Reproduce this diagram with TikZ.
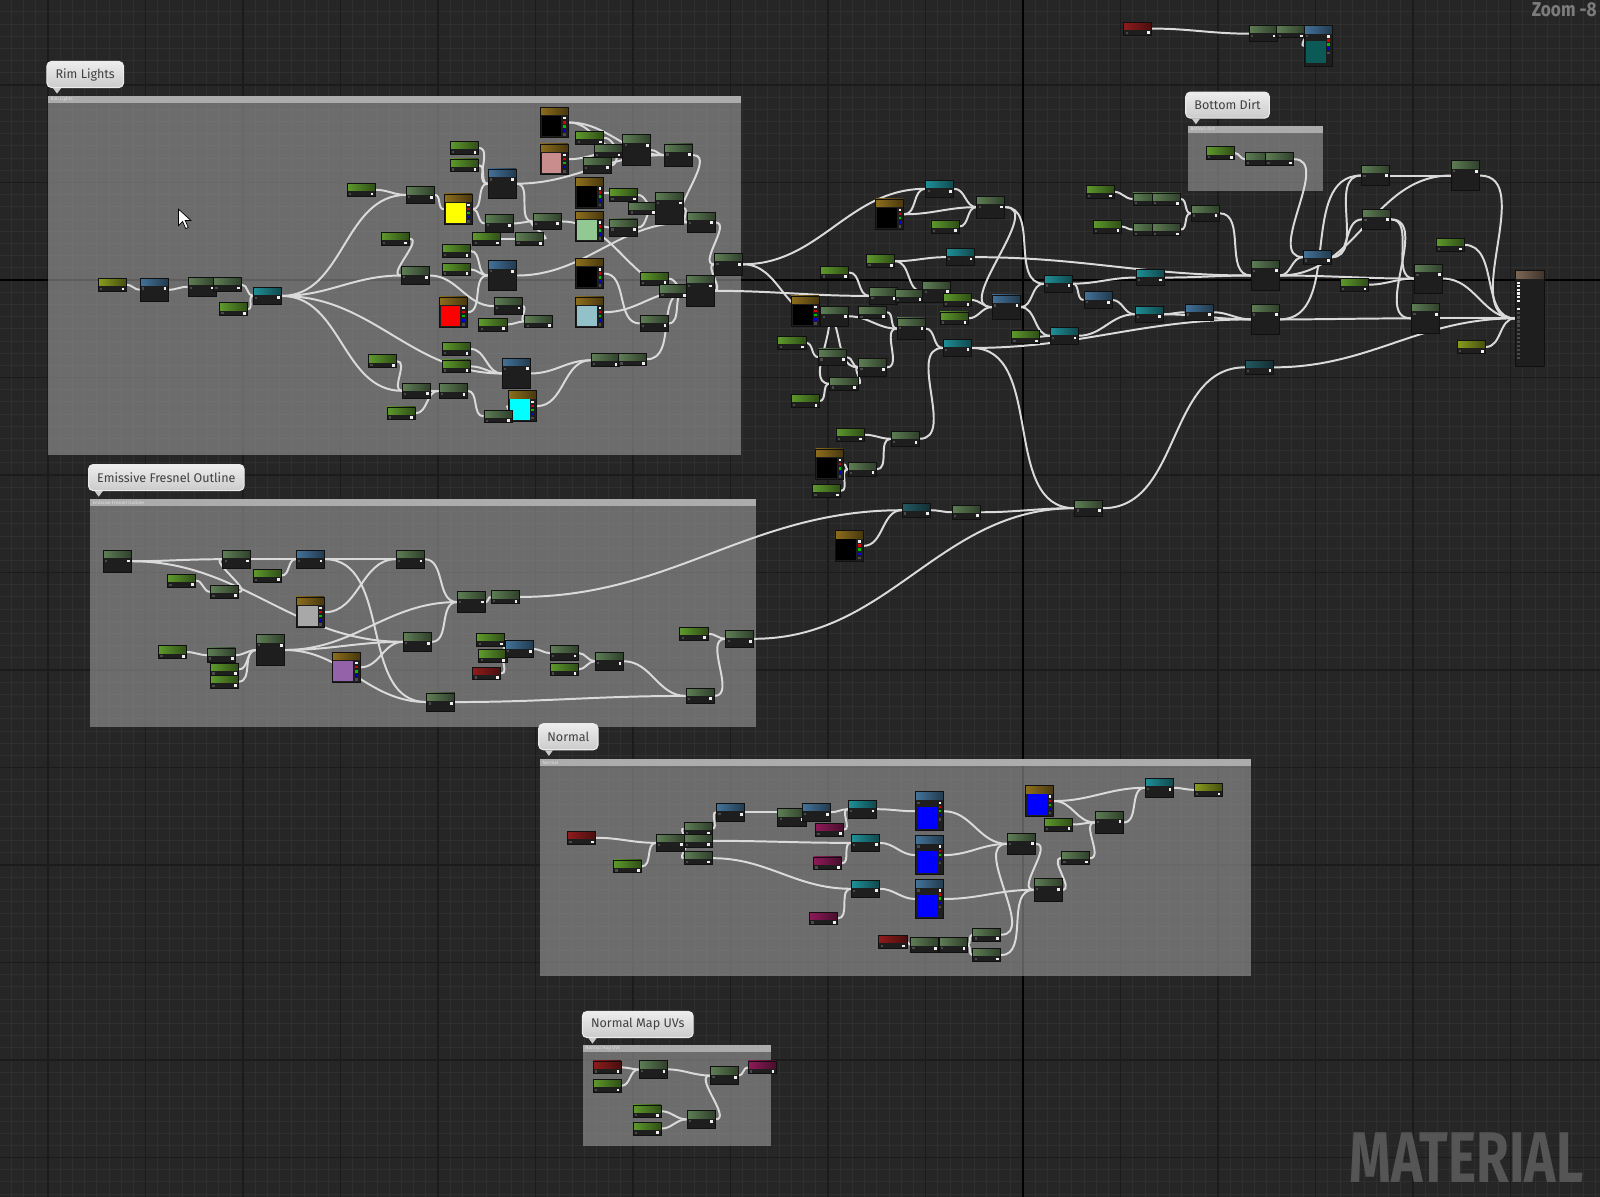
\documentclass[tikz,border=0pt]{standalone}
\usepackage{fontspec}
\setmainfont{Fira Sans}
\usetikzlibrary{positioning}
\definecolor{canvas}{HTML}{262626}
\definecolor{gridminor}{HTML}{2F2F2F}
\definecolor{gridmajor}{HTML}{1B1B1B}
\definecolor{boxc}{HTML}{9C9C9C}
\definecolor{boxhead}{HTML}{ACACAC}
\definecolor{bubtop}{HTML}{EDEDED}
\definecolor{bubbot}{HTML}{CBCBCB}
\definecolor{nbody}{HTML}{1D1E1D}
\definecolor{nedge}{HTML}{101010}
\definecolor{pinc}{HTML}{EEEEEE}
\definecolor{pinin}{HTML}{4A4A4A}
\definecolor{wirec}{HTML}{DADADA}
\definecolor{hgreen}{HTML}{5E7E55}
\definecolor{hbright}{HTML}{5E9A2C}
\definecolor{holive}{HTML}{8A9C1E}
\definecolor{hblue}{HTML}{43739A}
\definecolor{hteal}{HTML}{1F9098}
\definecolor{hdteal}{HTML}{245A62}
\definecolor{hred}{HTML}{901C1C}
\definecolor{hmag}{HTML}{8E1A58}
\definecolor{hgold}{HTML}{8E6E1C}
\definecolor{htan}{HTML}{7E6856}
\definecolor{swpink}{HTML}{C98D8D}
\definecolor{swlgreen}{HTML}{92C892}
\definecolor{swlblue}{HTML}{93C1CA}
\definecolor{swgray}{HTML}{A8A8A8}
\definecolor{swpurple}{HTML}{9462A8}
\definecolor{swcyan}{HTML}{00FFFF}
\definecolor{swyellow}{HTML}{FFFF00}
\definecolor{swred}{HTML}{FF0000}
\definecolor{swblue}{HTML}{0000FF}
\definecolor{texteal}{HTML}{0C5A55}
\definecolor{marktext}{HTML}{555555}
\definecolor{zoomtext}{HTML}{7C7C7C}
\pgfdeclarelayer{grid}
\pgfdeclarelayer{wires}
\pgfsetlayers{grid,wires,main}
\tikzset{
  uenode/.style={rectangle,fill=nbody,draw=nedge,line width=0.2pt,inner sep=0pt,minimum width=2.75mm,minimum height=#1},
  hdr/.style={path picture={
      \shade[left color=#1,right color=#1!50!black] (path picture bounding box.north west) rectangle ([yshift=-0.72mm]path picture bounding box.north east);
      \fill[pinin] ([shift={(0.18mm,-0.92mm)}]path picture bounding box.north west) rectangle ++(0.22mm,-0.22mm);
      \fill[pinc] ([shift={(-0.45mm,-0.9mm)}]path picture bounding box.north east) rectangle ++(0.27mm,-0.27mm);}},
  cst/.style={uenode=1.25mm,hdr=hbright},
  rd/.style={uenode=1.25mm,hdr=hred},
  mg/.style={uenode=1.25mm,hdr=hmag},
  ol/.style={uenode=1.25mm,hdr=holive},
  gn/.style={uenode=#1,hdr=hgreen},
  gn/.default=1.7mm,
  bl/.style={uenode=#1,hdr=hblue},
  bl/.default=1.7mm,
  tl/.style={uenode=#1,hdr=hteal},
  tl/.default=1.7mm,
  dtl/.style={uenode=#1,hdr=hdteal},
  dtl/.default=1.4mm,
  sw/.style={uenode=3mm,path picture={
      \shade[left color=hgold,right color=hgold!50!black] (path picture bounding box.north west) rectangle ([yshift=-0.75mm]path picture bounding box.north east);
      \fill[#1] ([shift={(0.15mm,-0.85mm)}]path picture bounding box.north west) rectangle ++(1.95mm,-2.0mm);
      \fill[pinc] ([shift={(-0.5mm,-0.95mm)}]path picture bounding box.north east) rectangle ++(0.26mm,-0.26mm);
      \fill[red!85!black] ([shift={(-0.5mm,-1.35mm)}]path picture bounding box.north east) rectangle ++(0.26mm,-0.26mm);
      \fill[green!75!black] ([shift={(-0.5mm,-1.75mm)}]path picture bounding box.north east) rectangle ++(0.26mm,-0.26mm);
      \fill[blue!85!black] ([shift={(-0.5mm,-2.15mm)}]path picture bounding box.north east) rectangle ++(0.26mm,-0.26mm);
      \fill[pinin] ([shift={(-0.5mm,-2.55mm)}]path picture bounding box.north east) rectangle ++(0.26mm,-0.26mm);}},
  tx/.style={uenode=3.8mm,path picture={
      \shade[left color=hblue,right color=hblue!50!black] (path picture bounding box.north west) rectangle ([yshift=-0.75mm]path picture bounding box.north east);
      \fill[#1] ([shift={(0.15mm,-1.5mm)}]path picture bounding box.north west) rectangle ++(1.95mm,-2.15mm);
      \fill[pinin] ([shift={(0.18mm,-0.95mm)}]path picture bounding box.north west) rectangle ++(0.22mm,-0.22mm);
      \fill[pinc] ([shift={(-0.5mm,-0.95mm)}]path picture bounding box.north east) rectangle ++(0.26mm,-0.26mm);
      \fill[red!85!black] ([shift={(-0.5mm,-1.35mm)}]path picture bounding box.north east) rectangle ++(0.26mm,-0.26mm);
      \fill[green!75!black] ([shift={(-0.5mm,-1.75mm)}]path picture bounding box.north east) rectangle ++(0.26mm,-0.26mm);
      \fill[blue!85!black] ([shift={(-0.5mm,-2.15mm)}]path picture bounding box.north east) rectangle ++(0.26mm,-0.26mm);
      \fill[pinin] ([shift={(-0.5mm,-2.55mm)}]path picture bounding box.north east) rectangle ++(0.26mm,-0.26mm);}},
  outnode/.style={uenode=9.4mm,minimum width=2.8mm,path picture={
      \shade[left color=htan,right color=htan!50!black] (path picture bounding box.north west) rectangle ([yshift=-0.8mm]path picture bounding box.north east);
      \foreach \k in {1.1,1.45,1.8,2.15,2.5,2.9,3.7} \fill[pinc] ([shift={(0.2mm,-\k*1mm)}]path picture bounding box.north west) rectangle ++(0.25mm,-0.22mm);
      \foreach \k in {4.1,4.5,4.9,5.3,5.7,6.1,6.5,6.9,7.3,7.7,8.1,8.5} \fill[pinin] ([shift={(0.2mm,-\k*1mm)}]path picture bounding box.north west) rectangle ++(0.25mm,-0.22mm);}},
  wire/.style={draw=wirec,line width=0.55pt,out=0,in=180},
  bubble/.style={draw=white!92!black,line width=0.3pt,top color=bubtop,bottom color=bubbot,rounded corners=0.45mm,
    inner xsep=0.85mm,inner ysep=0pt,minimum height=2.55mm,text=black!75,font=\fontsize{3.5}{4}\selectfont},
  boxtitle/.style={anchor=west,inner sep=0pt,text=white!88!black,font=\fontsize{1.3}{1.5}\selectfont}
}

\begin{document}
\begin{tikzpicture}[x=0.1mm,y=-0.1mm]
  \useasboundingbox (0,0) rectangle (1568,1173);

  % canvas grid and comment boxes
  \begin{pgfonlayer}{grid}
    \fill[canvas] (0,0) rectangle (1568,1173);
    \foreach \i in {0,...,132} \draw[gridminor,line width=0.25pt] ({-0.68+\i*11.944},0) -- ++(0,1173);
    \foreach \j in {0,...,98} \draw[gridminor,line width=0.25pt] (0,{-0.31+\j*11.944}) -- ++(1568,0);
    \foreach \i in {0,...,16} \draw[gridmajor,line width=0.35pt] ({47.1+\i*95.55},0) -- ++(0,1173);
    \foreach \j in {0,...,11} \draw[gridmajor,line width=0.35pt] (0,{83.3+\j*95.55}) -- ++(1568,0);
    \draw[black,line width=0.4pt] (1002.6,0) -- ++(0,1173);
    \draw[black,line width=0.4pt] (0,274.4) -- ++(1568,0);

    \fill[boxc,fill opacity=0.6] (47,94) rectangle (726,446);
    \fill[boxhead] (47,94) rectangle (726,101);
    \fill[boxc,fill opacity=0.6] (88,489) rectangle (741,712);
    \fill[boxhead] (88,489) rectangle (741,496);
    \fill[boxc,fill opacity=0.6] (529,744) rectangle (1226,956);
    \fill[boxhead] (529,744) rectangle (1226,751);
    \fill[boxc,fill opacity=0.6] (1164,123) rectangle (1297,187);
    \fill[boxhead] (1164,123) rectangle (1297,130);
    \fill[boxc,fill opacity=0.6] (571,1024) rectangle (756,1123);
    \fill[boxhead] (571,1024) rectangle (756,1031);
  \end{pgfonlayer}

  \node[boxtitle] (rimhd) at (49,97.5) {Rim Lights};
  \node[boxtitle] (efohd) at (90,492.5) {Emissive Fresnel Outline};
  \node[boxtitle] (nrmhd) at (531,747.5) {Normal};
  \node[boxtitle] (dirthd) at (1166,126.5) {Bottom Dirt};
  \node[boxtitle] (uvhd) at (573,1027.5) {Normal Map UVs};

  % comment bubbles
  \node[bubble] (rimtag) at (83.5,73) {Rim Lights};
  \node[bubble] (efotag) at (163,468) {Emissive Fresnel Outline};
  \node[bubble] (nrmtag) at (557,722) {Normal};
  \node[bubble] (dirttag) at (1203,103) {Bottom Dirt};
  \node[bubble] (uvtag) at (625,1004) {Normal Map UVs};
  \foreach \t in {rimtag,efotag,nrmtag,dirttag,uvtag}
    \fill[bubbot] ([xshift=0.65mm]\t.south west) -- ([xshift=1.45mm]\t.south west) -- ([xshift=1.05mm,yshift=-0.55mm]\t.south west) -- cycle;

  \node[font=\fontsize{5.6}{6}\selectfont\bfseries,text=zoomtext,inner sep=0pt] (zoomlbl) at (1533,10) {\scalebox{0.86}[1]{Zoom -8}};
  \node[font=\fontsize{14}{14}\selectfont\bfseries,text=marktext,inner sep=0pt,anchor=base] (wmark) at (1437,1159) {\scalebox{1.057}[1.43]{MATERIAL}};

  % top right
  \node[rd] (trR) at (1115,28) {};
  \node[gn=1.6mm] (trG1) at (1238,33) {};
  \node[gn=1.2mm] (trG2) at (1265,31) {};
  \node[tx=texteal,minimum height=4mm] (trTex) at (1292,45) {};

  % rim lights
  \node[ol] (r1) at (110,279) {};
  \node[bl=2.3mm] (r2) at (151,284) {};
  \node[gn=1.8mm] (r3) at (198,281) {};
  \node[gn=1.4mm] (r4) at (223,279) {};
  \node[cst] (r5) at (229,303) {};
  \node[tl] (r6) at (262,290) {};
  \node[cst] (r7) at (354,186) {};
  \node[gn=1.6mm] (r8) at (412,191) {};
  \node[cst] (r9) at (387,234) {};
  \node[gn] (r10) at (407,270) {};
  \node[cst] (r11) at (375,354) {};
  \node[gn=1.5mm] (r12) at (408,383) {};
  \node[cst] (r13) at (393,405) {};
  \node[gn=1.4mm] (r14) at (444,383) {};
  \node[sw=swyellow] (r15) at (449,205) {};
  \node[cst] (r16) at (455,145) {};
  \node[cst] (r17) at (455,162) {};
  \node[bl=2.9mm] (r18) at (492,180) {};
  \node[gn] (r19) at (489,219) {};
  \node[cst] (r20) at (477,234) {};
  \node[gn=1.2mm] (r21) at (519,234) {};
  \node[gn=1.6mm] (r22) at (536,217) {};
  \node[cst] (r23) at (447,246) {};
  \node[cst] (r24) at (447,264) {};
  \node[bl=2.9mm] (r25) at (492,270) {};
  \node[sw=swred] (r26) at (444,306) {};
  \node[gn] (r27) at (498,300) {};
  \node[cst] (r28) at (483,318) {};
  \node[gn=1.2mm] (r29) at (528,315) {};
  \node[cst] (r30) at (447,342) {};
  \node[cst] (r31) at (447,359) {};
  \node[bl=3mm] (r32) at (506,366) {};
  \node[sw=swcyan] (r33) at (512,398) {};
  \node[gn=1.2mm] (r34) at (488,408) {};
  \node[sw=black] (r35) at (543,120) {};
  \node[sw=swpink] (r36) at (543,156) {};
  \node[cst] (r37) at (578,135) {};
  \node[gn=1.3mm] (r38) at (596,148) {};
  \node[gn=1.6mm] (r39) at (585,162) {};
  \node[gn=3mm] (r40) at (624,147) {};
  \node[gn=2.2mm] (r41) at (665,152) {};
  \node[sw=black] (r42) at (578,189) {};
  \node[cst] (r43) at (611,191) {};
  \node[gn=1.2mm] (r44) at (630,204) {};
  \node[sw=swlgreen] (r45) at (578,222) {};
  \node[gn] (r46) at (611,223) {};
  \node[gn=3.1mm] (r47) at (656,204) {};
  \node[gn=2mm] (r48) at (687,218) {};
  \node[sw=black] (r49) at (578,268) {};
  \node[sw=swlblue] (r50) at (578,306) {};
  \node[cst] (r51) at (641,273) {};
  \node[gn=1.2mm] (r52) at (660,285) {};
  \node[gn=3mm] (r53) at (686,285) {};
  \node[gn=1.6mm] (r54) at (641,317) {};
  \node[gn=1.3mm] (r55) at (593,353) {};
  \node[gn=1.2mm] (r56) at (620,352) {};
  \node[gn=2.1mm] (r57) at (714,259) {};

  % middle cluster
  \node[tl=1.6mm] (m1) at (921,185) {};
  \node[sw=black] (m2) at (872,210) {};
  \node[gn=2.1mm] (m3) at (971,203) {};
  \node[cst] (m4) at (926,222) {};
  \node[tl] (m5) at (941,252) {};
  \node[cst] (m6) at (863,256) {};
  \node[cst] (m7) at (818,267) {};
  \node[gn=1.6mm] (m8) at (866,290) {};
  \node[gn=1.3mm] (m9) at (891,290) {};
  \node[gn=2.1mm] (m10) at (918,286) {};
  \node[cst] (m11) at (938,294) {};
  \node[sw=black] (m12) at (789,305) {};
  \node[gn=2mm] (m13) at (818,310) {};
  \node[gn=1.2mm] (m14) at (855,306) {};
  \node[bl=2.4mm] (m15) at (986,301) {};
  \node[cst] (m16) at (935,312) {};
  \node[gn=2.1mm] (m17) at (893,322) {};
  \node[tl] (m18) at (1037,278) {};
  \node[cst] (m19) at (776,336) {};
  \node[gn=1.6mm] (m20) at (816,350) {};
  \node[gn] (m21) at (855,360) {};
  \node[tl] (m22) at (938,341) {};
  \node[cst] (m23) at (1005,330) {};
  \node[tl=1.6mm] (m24) at (1043,329) {};
  \node[gn=1.3mm] (m25) at (827,376) {};
  \node[cst] (m26) at (789,393) {};
  \node[cst] (m27) at (833,426) {};
  \node[gn=1.4mm] (m28) at (887,430) {};
  \node[sw=black] (m29) at (813,455) {};
  \node[gn=1.4mm] (m30) at (845,460) {};
  \node[cst] (m31) at (810,481) {};
  \node[dtl] (m32) at (898,500) {};
  \node[gn=1.4mm] (m33) at (947,502) {};
  \node[gn=1.6mm] (m34) at (1067,498) {};
  \node[sw=black] (m35) at (832,535) {};

  % right cluster
  \node[cst] (q1) at (1078,188) {};
  \node[gn=1.2mm] (q2) at (1124,195) {};
  \node[gn=1.2mm] (q3) at (1143,195) {};
  \node[cst] (q4) at (1085,222) {};
  \node[gn=1.2mm] (q5) at (1124,225) {};
  \node[gn=1.2mm] (q6) at (1143,225) {};
  \node[gn=1.6mm] (q7) at (1181,209) {};
  \node[cst] (q8) at (1196,150) {};
  \node[gn=1.3mm] (q9) at (1234,156) {};
  \node[gn=1.3mm] (q10) at (1254,156) {};
  \node[tl=1.6mm] (q11) at (1127,272) {};
  \node[bl=1.6mm] (q12) at (1076,294) {};
  \node[tl=1.6mm] (q13) at (1126,308) {};
  \node[bl=1.6mm] (q14) at (1175,306) {};
  \node[gn=3mm] (q15) at (1240,270) {};
  \node[bl=1.4mm] (q16) at (1291,252) {};
  \node[cst] (q17) at (1327,279) {};
  \node[gn=3mm] (q18) at (1240,313) {};
  \node[dtl] (q19) at (1234,360) {};
  \node[gn=2mm] (q20) at (1348,172) {};
  \node[gn=2.9mm] (q21) at (1436,172) {};
  \node[gn=2mm] (q22) at (1349,215) {};
  \node[cst] (q23) at (1421,240) {};
  \node[gn=2.8mm] (q24) at (1400,273) {};
  \node[gn=2.9mm] (q25) at (1397,312) {};
  \node[ol] (q26) at (1442,340) {};
  \node[outnode] (matout) at (1499,312) {};

  % emissive fresnel outline
  \node[gn=2.1mm] (e1) at (115,550) {};
  \node[gn] (e2) at (232,548) {};
  \node[bl] (e3) at (304,548) {};
  \node[gn] (e4) at (402,548) {};
  \node[cst] (e5) at (178,569) {};
  \node[gn=1.3mm] (e6) at (220,580) {};
  \node[cst] (e7) at (262,564) {};
  \node[sw=swgray] (e8) at (304,600) {};
  \node[gn=2.1mm] (e9) at (462,590) {};
  \node[gn=1.2mm] (e10) at (495,585) {};
  \node[cst] (e11) at (169,639) {};
  \node[gn=1.4mm] (e12) at (217,642) {};
  \node[cst] (e13) at (220,656) {};
  \node[cst] (e14) at (220,668) {};
  \node[gn=3mm] (e15) at (265,637) {};
  \node[gn=1.8mm] (e16) at (409,629) {};
  \node[sw=swpurple] (e17) at (339,654) {};
  \node[gn=1.8mm] (e18) at (432,688) {};
  \node[cst] (e19) at (481,627) {};
  \node[cst] (e20) at (483,643) {};
  \node[rd] (e21) at (477,660) {};
  \node[bl=1.6mm] (e22) at (509,636) {};
  \node[gn=1.5mm] (e23) at (553,640) {};
  \node[cst] (e24) at (553,656) {};
  \node[gn] (e25) at (597,648) {};
  \node[cst] (e26) at (680,621) {};
  \node[gn=1.6mm] (e27) at (725,626) {};
  \node[gn=1.5mm] (e28) at (686,682) {};

  % normal
  \node[rd] (n1) at (570,821) {};
  \node[cst] (n2) at (615,849) {};
  \node[gn] (n3) at (657,826) {};
  \node[gn=1.2mm] (n4) at (684,812) {};
  \node[gn=1.3mm] (n5) at (684,824) {};
  \node[gn=1.3mm] (n6) at (684,841) {};
  \node[bl] (n7) at (716,796) {};
  \node[gn] (n8) at (776,801) {};
  \node[bl] (n9) at (800,796) {};
  \node[mg] (n10) at (813,813) {};
  \node[tl] (n11) at (845,793) {};
  \node[tl] (n12) at (848,826) {};
  \node[mg] (n13) at (811,846) {};
  \node[tl] (n14) at (848,871) {};
  \node[mg] (n15) at (807,900) {};
  \node[tx=swblue] (n16) at (911,795) {};
  \node[tx=swblue] (n17) at (911,838) {};
  \node[tx=swblue] (n18) at (911,881) {};
  \node[rd] (n19) at (875,923) {};
  \node[gn=1.4mm] (n20) at (906,926) {};
  \node[gn=1.4mm] (n21) at (934,926) {};
  \node[gn=1.3mm] (n22) at (967,916) {};
  \node[gn=1.3mm] (n23) at (967,936) {};
  \node[gn=2.1mm] (n24) at (1001,827) {};
  \node[gn=2.2mm] (n25) at (1027,872) {};
  \node[sw=swblue] (n26) at (1019,785) {};
  \node[cst] (n27) at (1037,808) {};
  \node[gn=1.3mm] (n28) at (1054,841) {};
  \node[gn=2.2mm] (n29) at (1087,806) {};
  \node[tl=1.8mm] (n30) at (1136,772) {};
  \node[ol] (n31) at (1184,774) {};

  % normal map uvs
  \node[rd] (u1) at (595,1046) {};
  \node[cst] (u2) at (595,1064) {};
  \node[gn] (u3) at (640,1048) {};
  \node[gn] (u4) at (710,1054) {};
  \node[mg] (u5) at (747,1046) {};
  \node[cst] (u6) at (634,1089) {};
  \node[cst] (u7) at (634,1106) {};
  \node[gn] (u8) at (687,1097) {};

  % mouse pointer
  \filldraw[fill=white,draw=black,line width=0.2pt] (175,205) -- (175,221) -- (179,217) -- (182,224) -- (184.5,223) -- (181.5,216) -- (187,216) -- cycle;

  \begin{pgfonlayer}{wires}
    \draw[wire] (trR) to (trG1);
    \draw[wire] (trG1) to (trG2);
    \draw[wire] (trG2) to (trTex);
    % rim lights
    \draw[wire] (r1) to (r2);
    \draw[wire] (r2) to (r3);
    \draw[wire] (r3) to (r4);
    \draw[wire] (r4) to (r6);
    \draw[wire] (r5) to (r6);
    \draw[wire] (r6) to (r8);
    \draw[wire] (r6) to (r10);
    \draw[wire] (r6) to (r12);
    \draw[wire] (r6) to (r32);
    \draw[wire] (r7) to (r8);
    \draw[wire] (r9) to (r10);
    \draw[wire] (r11) to (r12);
    \draw[wire] (r12) to (r14);
    \draw[wire] (r13) to (r14);
    \draw[wire] (r8) to (r15);
    \draw[wire] (r15) to (r18);
    \draw[wire] (r15) to (r19);
    \draw[wire] (r16) to (r18);
    \draw[wire] (r17) to (r18);
    \draw[wire] (r18) to (r22);
    \draw[wire] (r18) to (r41);
    \draw[wire] (r19) to (r22);
    \draw[wire] (r20) to (r21);
    \draw[wire] (r21) to (r22);
    \draw[wire] (r22) to (r53);
    \draw[wire] (r23) to (r25);
    \draw[wire] (r24) to (r25);
    \draw[wire] (r26) to (r25);
    \draw[wire] (r25) to (r48);
    \draw[wire] (r10) to (r27);
    \draw[wire] (r27) to (r29);
    \draw[wire] (r28) to (r29);
    \draw[wire] (r30) to (r32);
    \draw[wire] (r31) to (r32);
    \draw[wire] (r14) to (r34);
    \draw[wire] (r34) to (r33);
    \draw[wire] (r32) to (r55);
    \draw[wire] (r33) to (r55);
    \draw[wire] (r55) to (r56);
    \draw[wire] (r56) to (r53);
    \draw[wire] (r35) to (r40);
    \draw[wire] (r35) to (r41);
    \draw[wire] (r36) to (r40);
    \draw[wire] (r37) to (r40);
    \draw[wire] (r38) to (r40);
    \draw[wire] (r39) to (r40);
    \draw[wire] (r40) to (r41);
    \draw[wire] (r41) to (r48);
    \draw[wire] (r42) to (r47);
    \draw[wire] (r43) to (r47);
    \draw[wire] (r44) to (r47);
    \draw[wire] (r45) to (r46);
    \draw[wire] (r46) to (r47);
    \draw[wire] (r47) to (r48);
    \draw[wire] (r48) to (r57);
    \draw[wire] (r49) to (r54);
    \draw[wire] (r50) to (r53);
    \draw[wire] (r51) to (r53);
    \draw[wire] (r52) to (r53);
    \draw[wire] (r54) to (r53);
    \draw[wire] (r53) to (r57);
    % middle cluster
    \draw[wire] (r57) to (m1);
    \draw[wire] (r57) to (m13);
    \draw[wire] (r53) to (m8);
    \draw[wire] (m2) to (m1);
    \draw[wire] (m2) to (m3);
    \draw[wire] (m1) to (m3);
    \draw[wire] (m4) to (m3);
    \draw[wire] (m3) to (m15);
    \draw[wire] (m3) to (m18);
    \draw[wire] (m6) to (m5);
    \draw[wire] (m6) to (m10);
    \draw[wire] (m7) to (m8);
    \draw[wire] (m8) to (m9);
    \draw[wire] (m9) to (m10);
    \draw[wire] (m5) to (q15);
    \draw[wire] (m11) to (m15);
    \draw[wire] (m16) to (m15);
    \draw[wire] (m15) to (m18);
    \draw[wire] (m15) to (m24);
    \draw[wire] (m23) to (m24);
    \draw[wire] (m12) to (m13);
    \draw[wire] (m12) to (m21);
    \draw[wire] (m12) to (m25);
    \draw[wire] (m13) to (m17);
    \draw[wire] (m14) to (m17);
    \draw[wire] (m17) to (m22);
    \draw[wire] (m19) to (m20);
    \draw[wire] (m20) to (m21);
    \draw[wire] (m21) to (m17);
    \draw[wire] (m26) to (m25);
    \draw[wire] (m25) to (m21);
    \draw[wire] (m27) to (m28);
    \draw[wire] (m28) to (m22);
    \draw[wire] (m29) to (m30);
    \draw[wire] (m31) to (m30);
    \draw[wire] (m30) to (m28);
    \draw[wire] (m22) to (q18);
    \draw[wire] (m22) to (m34);
    \draw[wire] (m35) to (m32);
    \draw[wire] (m32) to (m33);
    \draw[wire] (m33) to (m34);
    \draw[wire] (m34) to (q19);
    % right cluster
    \draw[wire] (m18) to (q12);
    \draw[wire] (m18) to (q11);
    \draw[wire] (m24) to (q13);
    \draw[wire] (q12) to (q13);
    \draw[wire] (q11) to (q15);
    \draw[wire] (q13) to (q14);
    \draw[wire] (q13) to (q18);
    \draw[wire] (q14) to (q18);
    \draw[wire] (q1) to (q2);
    \draw[wire] (q2) to (q3);
    \draw[wire] (q3) to (q7);
    \draw[wire] (q4) to (q5);
    \draw[wire] (q5) to (q6);
    \draw[wire] (q6) to (q7);
    \draw[wire] (q7) to (q15);
    \draw[wire] (q8) to (q9);
    \draw[wire] (q9) to (q10);
    \draw[wire] (q10) to (q16);
    \draw[wire] (q15) to (q16);
    \draw[wire] (q15) to (q21);
    \draw[wire] (q15) to (q24);
    \draw[wire] (q16) to (q20);
    \draw[wire] (q16) to (q22);
    \draw[wire] (q18) to (q20);
    \draw[wire] (q18) to (q25);
    \draw[wire] (q17) to (q24);
    \draw[wire] (q20) to (q21);
    \draw[wire] (q22) to (q24);
    \draw[wire] (q22) to (q25);
    \draw[wire] (q21) to (matout);
    \draw[wire] (q23) to (matout);
    \draw[wire] (q24) to (matout);
    \draw[wire] (q25) to (matout);
    \draw[wire] (q26) to (matout);
    \draw[wire] (q19) to (matout);
    % emissive fresnel outline
    \draw[wire] (e1) to (e2);
    \draw[wire] (e2) to (e3);
    \draw[wire] (e3) to (e4);
    \draw[wire] (e1) to (e16);
    \draw[wire] (e5) to (e6);
    \draw[wire] (e6) to (e2);
    \draw[wire] (e7) to (e3);
    \draw[wire] (e8) to (e4);
    \draw[wire] (e3) to (e18);
    \draw[wire] (e4) to (e9);
    \draw[wire] (e11) to (e12);
    \draw[wire] (e12) to (e15);
    \draw[wire] (e13) to (e15);
    \draw[wire] (e14) to (e15);
    \draw[wire] (e15) to (e9);
    \draw[wire] (e15) to (e16);
    \draw[wire] (e15) to (e18);
    \draw[wire] (e17) to (e16);
    \draw[wire] (e16) to (e9);
    \draw[wire] (e9) to (e10);
    \draw[wire] (e19) to (e22);
    \draw[wire] (e20) to (e22);
    \draw[wire] (e21) to (e22);
    \draw[wire] (e22) to (e23);
    \draw[wire] (e23) to (e25);
    \draw[wire] (e24) to (e25);
    \draw[wire] (e25) to (e28);
    \draw[wire] (e18) to (e28);
    \draw[wire] (e28) to (e27);
    \draw[wire] (e26) to (e27);
    \draw[wire] (e10) to (m32);
    \draw[wire] (e27) to (m34);
    % normal
    \draw[wire] (n1) to (n3);
    \draw[wire] (n2) to (n3);
    \draw[wire] (n3) to (n4);
    \draw[wire] (n3) to (n5);
    \draw[wire] (n3) to (n6);
    \draw[wire] (n4) to (n7);
    \draw[wire] (n7) to (n9);
    \draw[wire] (n9) to (n11);
    \draw[wire] (n10) to (n11);
    \draw[wire] (n11) to (n16);
    \draw[wire] (n5) to (n12);
    \draw[wire] (n13) to (n12);
    \draw[wire] (n12) to (n17);
    \draw[wire] (n6) to (n14);
    \draw[wire] (n15) to (n14);
    \draw[wire] (n14) to (n18);
    \draw[wire] (n16) to (n24);
    \draw[wire] (n17) to (n24);
    \draw[wire] (n18) to (n25);
    \draw[wire] (n19) to (n20);
    \draw[wire] (n20) to (n21);
    \draw[wire] (n21) to (n22);
    \draw[wire] (n21) to (n23);
    \draw[wire] (n22) to (n24);
    \draw[wire] (n23) to (n25);
    \draw[wire] (n24) to (n25);
    \draw[wire] (n25) to (n28);
    \draw[wire] (n28) to (n29);
    \draw[wire] (n27) to (n29);
    \draw[wire] (n26) to (n29);
    \draw[wire] (n26) to (n30);
    \draw[wire] (n29) to (n30);
    \draw[wire] (n30) to (n31);
    % normal map uvs
    \draw[wire] (u1) to (u3);
    \draw[wire] (u2) to (u3);
    \draw[wire] (u3) to (u4);
    \draw[wire] (u4) to (u5);
    \draw[wire] (u6) to (u8);
    \draw[wire] (u7) to (u8);
    \draw[wire] (u8) to (u4);
  \end{pgfonlayer}
\end{tikzpicture}
\end{document}
